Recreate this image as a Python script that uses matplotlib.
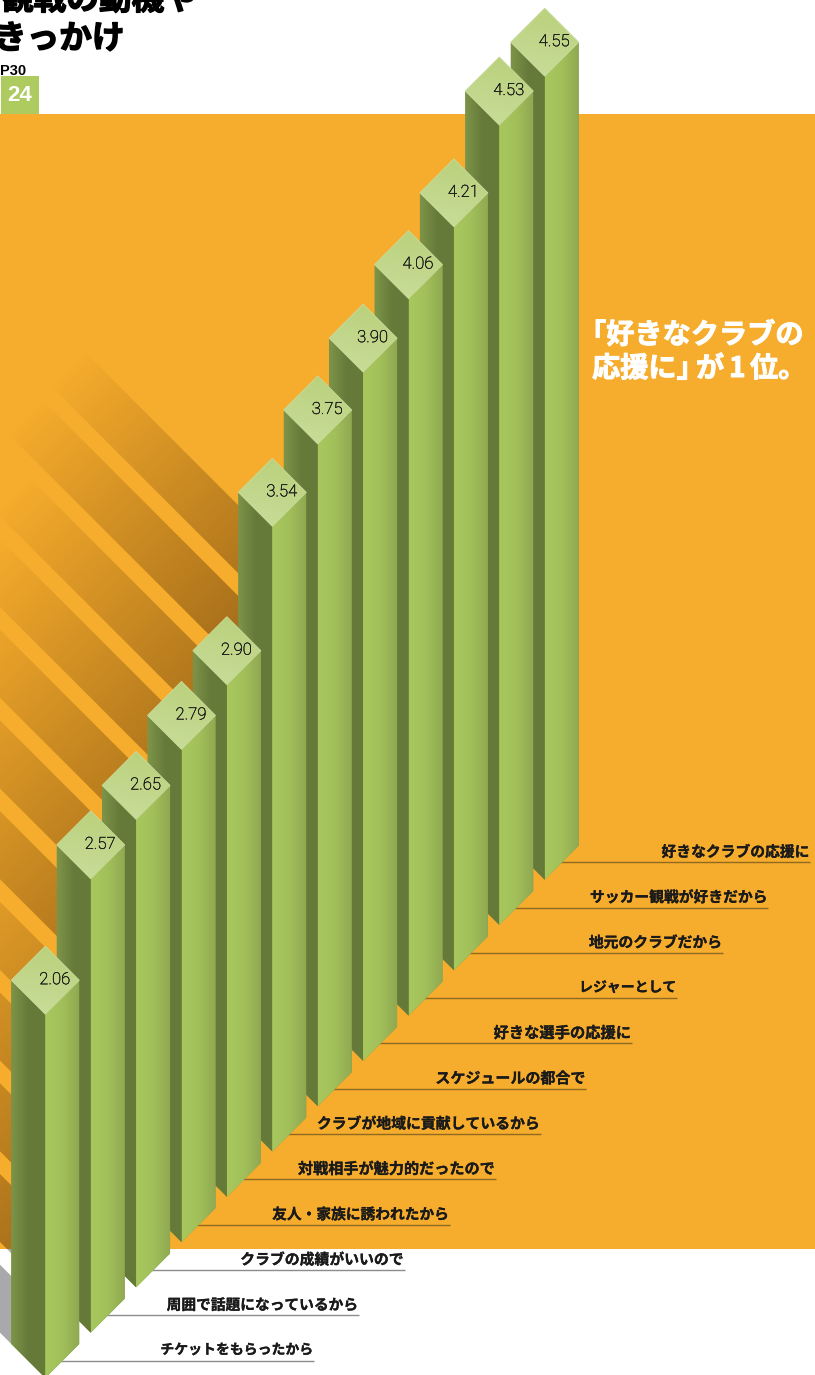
import numpy as np
import matplotlib
matplotlib.use('Agg')
import matplotlib.pyplot as plt
import matplotlib.patheffects as pe
from matplotlib.colors import LinearSegmentedColormap
from matplotlib.patches import Polygon, Rectangle

plt.rcParams['font.family'] = ['Noto Sans CJK JP', 'DejaVu Sans']

# Mittelwerte, von vorne nach hinten
values = [2.06, 2.57, 2.65, 2.79, 2.90, 3.54, 3.75, 3.90, 4.06, 4.21, 4.53, 4.55]
labels = ['チケットをもらったから', '周囲で話題になっているから', 'クラブの成績がいいので',
          '友人・家族に誘われたから', '対戦相手が魅力的だったので', 'クラブが地域に貢献しているから',
          'スケジュールの都合で', '好きな選手の応援に', 'レジャーとして',
          '地元のクラブだから', 'サッカー観戦が好きだから', '好きなクラブの応援に']

# Projektion
HALF = 34          # half diagonal of the column top
STEP_X = 45.4
STEP_Y = 45.3
UNIT = 176.6       # px per value unit
SHADOW_UNIT = 105  # shadow length in x per value unit
SHADOW_RAMP = 250
ORANGE = '#f6ac2c'
BAND_TOP, BAND_BOTTOM = 114, 1249
W, H = 815, 1375
LABEL_PT = [10.0, 10.6, 10.7, 10.6, 10.9, 10.7, 10.8, 11.0, 10.0, 10.65, 10.65, 10.65]

left_cmap = LinearSegmentedColormap.from_list('l', ['#7d9448', '#667b3a', '#657a39'])
right_cmap = LinearSegmentedColormap.from_list('r', ['#a8c85e', '#a2c05a', '#90a952'])
top_cmap = LinearSegmentedColormap.from_list('t', ['#b9d07a', '#c9dd9a'])

fig = plt.figure(figsize=(W / 100, H / 100), dpi=100)
ax = fig.add_axes([0, 0, 1, 1])


def base_center(i):
    return 45.3 + STEP_X * i, 1344 - STEP_Y * i


def fill_gradient(data, cmap, pts, zorder):
    # Verlauf auf das Polygon zuschneiden
    xs = [p[0] for p in pts]
    ys = [p[1] for p in pts]
    im = ax.imshow(data, cmap=cmap, vmin=0, vmax=1, aspect='auto', interpolation='bilinear',
                   extent=(min(xs), max(xs), max(ys), min(ys)), zorder=zorder)
    im.set_clip_path(Polygon(pts, closed=True, transform=ax.transData))


def draw_shadow(i, v, X, Y):
    cx, cy = base_center(i)
    length = SHADOW_UNIT * v
    pts = [(cx, cy - HALF), (cx - length, cy - HALF - length),
           (cx - HALF - length, cy - length), (cx - HALF, cy)]
    # grey part on the white ground below the orange block
    ax.add_patch(Polygon(pts, closed=True, fc='#a9a9ab', ec='none', zorder=0.5))
    # fades along the band direction
    along = ((X + Y) - (cx + cy - 2 * length)) / 2
    rgba = np.zeros(X.shape + (4,))
    rgba[..., :3] = np.array([154, 101, 24]) / 255
    rgba[..., 3] = np.clip(along / SHADOW_RAMP, 0, 1)
    im = ax.imshow(rgba, aspect='auto', interpolation='bilinear',
                   extent=(0, W, BAND_BOTTOM, BAND_TOP), zorder=1.5)
    im.set_clip_path(Polygon(pts, closed=True, transform=ax.transData))


def draw_column(i, v):
    z = 30 - i * 2
    cx, cy = base_center(i)
    top = cy - UNIT * v
    # solid body underneath so no background shows along the front edge
    ax.add_patch(Polygon([(cx - HALF, top), (cx, top + HALF), (cx + HALF, top), (cx + HALF, cy),
                          (cx, cy + HALF), (cx - HALF, cy)], closed=True, fc='#7f9848', ec='none',
                         zorder=z - 0.5))
    grad = np.linspace(0, 1, 64).reshape(1, -1)
    fill_gradient(grad, left_cmap,
                  [(cx - HALF, top), (cx, top + HALF), (cx, cy + HALF), (cx - HALF, cy)], z)
    fill_gradient(grad, right_cmap,
                  [(cx, top + HALF), (cx + HALF, top), (cx + HALF, cy), (cx, cy + HALF)], z)
    yy, xx = np.mgrid[0:1:32j, 0:1:32j]
    diamond = [(cx, top - HALF), (cx + HALF, top), (cx, top + HALF), (cx - HALF, top)]
    fill_gradient(yy * 0.8 + (1 - xx) * 0.2, top_cmap, diamond, z + 0.5)
    ax.add_patch(Polygon(diamond, closed=True, fc='none', ec='#c9dc9c', lw=0.6, zorder=z + 0.6))
    ax.text(cx + 9.5, top - 0.5, f'{v:.2f}', family='Roboto', fontweight='light', fontsize=12,
            color='#111111', ha='center', va='center', zorder=z + 0.7,
            path_effects=[pe.withStroke(linewidth=0.25, foreground='#111111')])


# Hintergrund
ax.add_patch(Rectangle((0, BAND_TOP), W, BAND_BOTTOM - BAND_TOP, fc=ORANGE, ec='none', zorder=1))

px, py = np.meshgrid(np.arange(0, W, 2.0), np.arange(BAND_TOP, BAND_BOTTOM, 2.0))
for i, v in enumerate(values):
    draw_shadow(i, v, px, py)

# Saeulen von hinten nach vorne
for i in range(len(values) - 1, -1, -1):
    draw_column(i, values[i])

# Beschriftung rechts
for i, lab in enumerate(labels):
    cx, cy = base_center(i)
    y = cy + 16.5
    x_end = min(314 + STEP_X * i, 810)
    col = '#8f6a22' if y < BAND_BOTTOM else '#8c8c8c'
    ax.plot([cx, x_end], [y, y], color=col, lw=1.0, zorder=3, solid_capstyle='butt')
    ax.text(x_end - 1, y - 10.5, lab, fontsize=LABEL_PT[i], fontweight='bold', color='#1a1a1a',
            ha='right', va='center', zorder=3,
            path_effects=[pe.withStroke(linewidth=0.2, foreground='#1a1a1a')])

# Titel
heavy = [pe.withStroke(linewidth=1.0, foreground='black')]
ax.text(1, 0, '観戦の動機や', fontsize=23.5, fontweight='bold', color='black', va='center', path_effects=heavy)
ax.text(-6, 39, 'きっかけ', fontsize=23.5, fontweight='bold', color='black', va='center', path_effects=heavy)
ax.text(0, 70.5, 'P30', family='Liberation Sans', fontsize=10.5, fontweight='bold', color='black', va='center')
ax.add_patch(Rectangle((1, 76), 38, 38, fc='#aecb5f', ec='none', zorder=2))
ax.text(20, 95.5, '24', family='Liberation Sans', fontsize=16, fontweight='bold', color='white',
        ha='center', va='center', zorder=3)

# Kommentar im orangen Feld
thick = [pe.withStroke(linewidth=0.7, foreground='white')]
for x, y, s in [(578, 335.5, '「好きなクラブの'), (592, 369, '応援に」'), (696, 369, 'が'),
                (729, 369, '1'), (750, 369, '位。')]:
    ax.text(x, y, s, fontsize=20.3, fontweight='bold', color='white', va='center', zorder=3,
            path_effects=thick)

ax.set_xlim(0, W)
ax.set_ylim(H, 0)
ax.axis('off')
fig.savefig('out.png', dpi=100, facecolor='white')
